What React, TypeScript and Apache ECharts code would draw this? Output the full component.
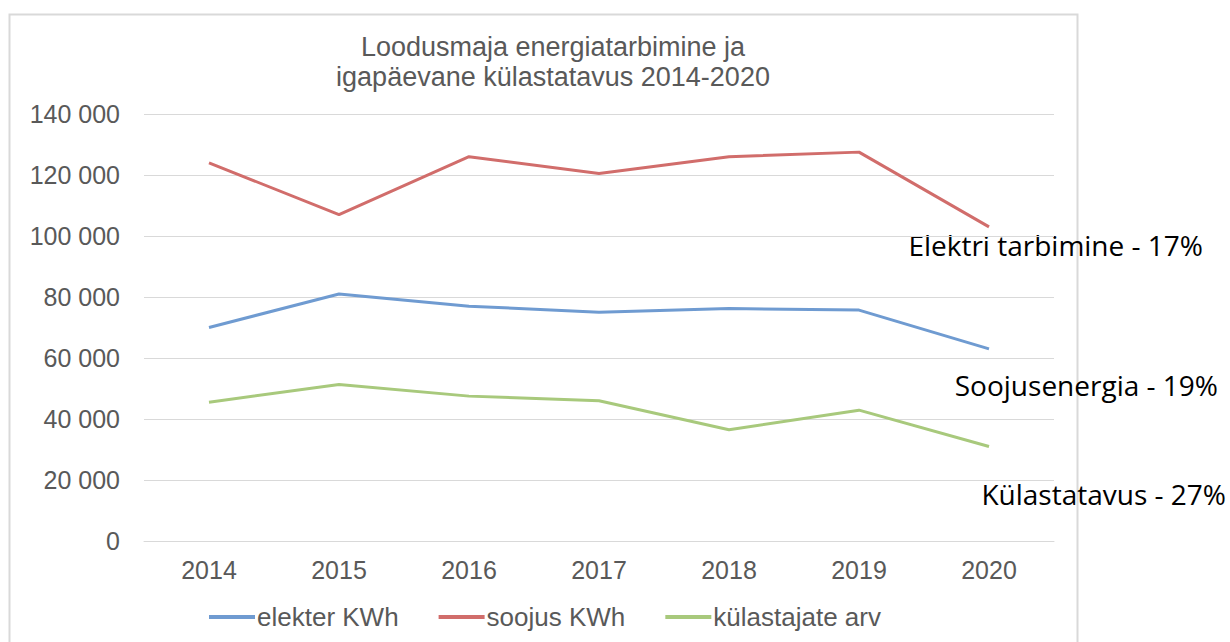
import React, { useEffect, useRef } from "react";
import * as echarts from "echarts";

const years = ["2014", "2015", "2016", "2017", "2018", "2019", "2020"];
const elekter = [70000, 81000, 77000, 75000, 76200, 75700, 63000];
const soojus = [124000, 107000, 126000, 120500, 126000, 127500, 103000];
const kulastajad = [45500, 51300, 47500, 46000, 36500, 42900, 31000];
const seriesNames = ["elekter KWh", "soojus KWh", "külastajate arv"];
const annotations = ["Elektri tarbimine - 17%", "Soojusenergia - 19%", "Külastatavus - 27%"];

const colors = ["#6f9bd1", "#d16d6b", "#a8c97c"];
const fmt = (v: number) => String(v).replace(/\B(?=(\d{3})+(?!\d))/g, " ");

export default function App() {
  const ref = useRef<HTMLDivElement>(null);
  useEffect(() => {
    if (!ref.current) return;
    const chart = echarts.init(ref.current, null, { renderer: "svg" });
    const font = "'Liberation Sans', Arial, sans-serif";
    const annFont = "'Open Sans', 'Noto Sans', sans-serif";
    chart.setOption({
      animation: false,
      backgroundColor: "#ffffff",
      title: {
        text: "Loodusmaja energiatarbimine ja\nigapäevane külastatavus 2014-2020",
        left: 548,
        textAlign: "center",
        top: 27,
        textStyle: { fontFamily: font, fontSize: 27, fontWeight: "normal", color: "#595959", lineHeight: 30 },
      },
      grid: { left: 144, right: 176, top: 114, bottom: 101, containLabel: false },
      legend: {
        top: 599,
        left: 204,
        itemWidth: 46,
        itemHeight: 4,
        itemGap: 40,
        icon: "rect",
        textStyle: { fontFamily: font, fontSize: 26, color: "#595959", padding: [0, 0, 0, -3] },
        data: seriesNames,
      },
      xAxis: {
        type: "category",
        data: years,
        boundaryGap: true,
        axisLine: { show: true, lineStyle: { color: "#d9d9d9", width: 1 } },
        axisTick: { show: false },
        axisLabel: { fontFamily: font, fontSize: 25, color: "#595959", margin: 16 },
      },
      yAxis: {
        type: "value",
        min: 0,
        max: 140000,
        interval: 20000,
        axisLine: { show: false },
        axisTick: { show: false },
        splitLine: { lineStyle: { color: "#d9d9d9", width: 1 } },
        axisLabel: { fontFamily: font, fontSize: 25, color: "#595959", margin: 24, formatter: (v: number) => fmt(v) },
      },
      series: [
        { name: seriesNames[0], data: elekter, color: colors[0] },
        { name: seriesNames[1], data: soojus, color: colors[1] },
        { name: seriesNames[2], data: kulastajad, color: colors[2] },
      ].map((s) => ({
        ...s,
        type: "line",
        symbol: "none",
        lineStyle: { width: 3, color: s.color },
        itemStyle: { color: s.color },
      })),
      graphic: [
        {
          type: "rect",
          shape: { x: 9.5, y: 14.5, width: 1068, height: 700 },
          style: { fill: "none", stroke: "#d9d9d9", lineWidth: 2 },
          z: -1,
        },
        {
          type: "text",
          x: 1203,
          y: 245,
          style: { text: annotations[0], fontFamily: annFont, fontSize: 28, fill: "#000000", align: "right", verticalAlign: "middle" },
        },
        {
          type: "text",
          x: 1218,
          y: 385,
          style: { text: annotations[1], fontFamily: annFont, fontSize: 28, fill: "#000000", align: "right", verticalAlign: "middle" },
        },
        {
          type: "text",
          x: 1226,
          y: 494,
          style: { text: annotations[2], fontFamily: annFont, fontSize: 28, fill: "#000000", align: "right", verticalAlign: "middle" },
        },
      ],
    });
    return () => chart.dispose();
  }, []);
  return <div ref={ref} style={{ position: "fixed", left: 0, top: 0, width: 1230, height: 642 }} />;
}
